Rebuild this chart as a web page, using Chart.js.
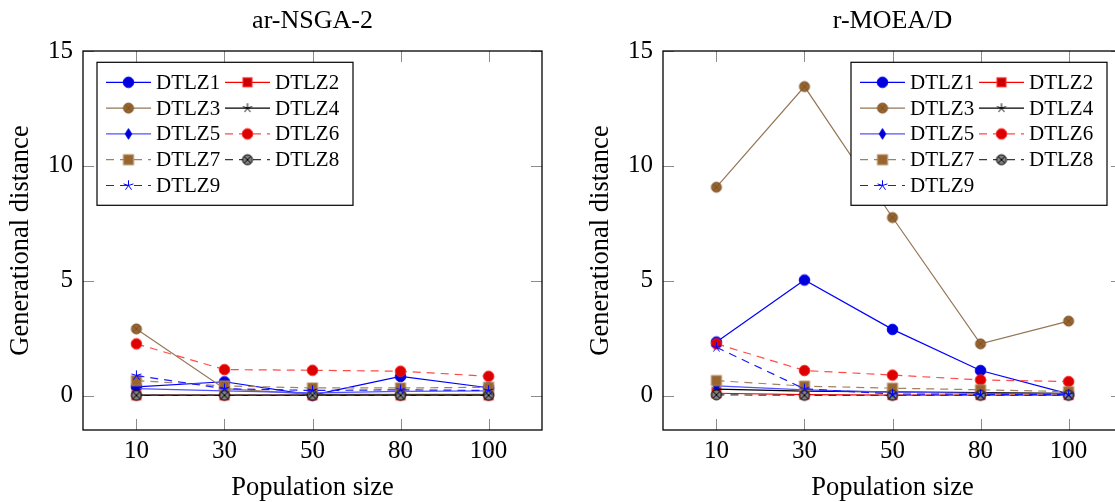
<!DOCTYPE html>
<html>
<head>
<meta charset="utf-8">
<script src="https://cdn.jsdelivr.net/npm/chart.js@4"></script>
<style>
  html, body { margin: 0; padding: 0; background: #fff; overflow: hidden; width: 1115px; height: 502px; }
  .panel { position: absolute; top: 0; width: 560px; height: 502px; }
  #panelLeft { left: 0; }
  #panelRight { left: 580px; }
  canvas { display: block; }
</style>
</head>
<body>
<div class="panel" id="panelLeft"><canvas id="chartNsga" width="560" height="502"></canvas></div>
<div class="panel" id="panelRight"><canvas id="chartMoead" width="560" height="502"></canvas></div>
<script>
// ---- data ---------------------------------------------------------------
const populationSizes = ['10', '30', '50', '80', '100'];
const problemNames = ['DTLZ1', 'DTLZ2', 'DTLZ3', 'DTLZ4', 'DTLZ5', 'DTLZ6', 'DTLZ7', 'DTLZ8', 'DTLZ9'];
const yTickValues = [0, 5, 10, 15];

// ar-NSGA-2: generational distance per population size
const nsgaDTLZ1 = [0.38, 0.60, 0.02, 0.83, 0.34];
const nsgaDTLZ2 = [0.01, 0.01, 0.01, 0.01, 0.01];
const nsgaDTLZ3 = [2.90, 0.30, 0.05, 0.05, 0.05];
const nsgaDTLZ4 = [0.02, 0.02, 0.02, 0.02, 0.02];
const nsgaDTLZ5 = [0.30, 0.20, 0.12, 0.18, 0.20];
const nsgaDTLZ6 = [2.25, 1.13, 1.10, 1.06, 0.84];
const nsgaDTLZ7 = [0.65, 0.42, 0.33, 0.33, 0.36];
const nsgaDTLZ8 = [0.01, 0.01, 0.01, 0.01, 0.01];
const nsgaDTLZ9 = [0.87, 0.30, 0.22, 0.25, 0.22];

// r-MOEA/D: generational distance per population size
const moeadDTLZ1 = [2.33, 5.03, 2.88, 1.09, 0.07];
const moeadDTLZ2 = [0.10, 0.04, 0.02, 0.02, 0.02];
const moeadDTLZ3 = [9.07, 13.45, 7.75, 2.25, 3.24];
const moeadDTLZ4 = [0.28, 0.19, 0.16, 0.13, 0.10];
const moeadDTLZ5 = [0.42, 0.25, 0.15, 0.10, 0.07];
const moeadDTLZ6 = [2.25, 1.09, 0.89, 0.68, 0.61];
const moeadDTLZ7 = [0.65, 0.41, 0.32, 0.25, 0.17];
const moeadDTLZ8 = [0.03, 0.01, 0.01, 0.01, 0.01];
const moeadDTLZ9 = [2.10, 0.29, 0.07, 0.05, 0.05];

const nsgaSeries = [nsgaDTLZ1, nsgaDTLZ2, nsgaDTLZ3, nsgaDTLZ4, nsgaDTLZ5, nsgaDTLZ6, nsgaDTLZ7, nsgaDTLZ8, nsgaDTLZ9];
const moeadSeries = [moeadDTLZ1, moeadDTLZ2, moeadDTLZ3, moeadDTLZ4, moeadDTLZ5, moeadDTLZ6, moeadDTLZ7, moeadDTLZ8, moeadDTLZ9];

// ---- marker glyphs --------------------------------------------------------
function makeMarker(kind, fill, stroke, r) {
  const c = document.createElement('canvas');
  const s = Math.ceil(r * 2 + 4);
  c.width = s; c.height = s;
  const g = c.getContext('2d');
  const m = s / 2;
  g.lineWidth = 1;
  g.strokeStyle = stroke;
  g.fillStyle = fill;
  if (kind === 'circle' || kind === 'otimes') {
    g.beginPath(); g.arc(m, m, r, 0, Math.PI * 2); g.fill(); g.stroke();
    if (kind === 'otimes') {
      const d = r * 0.7071;
      g.beginPath();
      g.moveTo(m - d, m - d); g.lineTo(m + d, m + d);
      g.moveTo(m - d, m + d); g.lineTo(m + d, m - d);
      g.stroke();
    }
  } else if (kind === 'square') {
    g.fillRect(m - r, m - r, 2 * r, 2 * r);
    g.strokeRect(m - r, m - r, 2 * r, 2 * r);
  } else if (kind === 'diamond') {
    g.beginPath();
    g.moveTo(m, m - r); g.lineTo(m + r * 0.62, m); g.lineTo(m, m + r); g.lineTo(m - r * 0.62, m);
    g.closePath(); g.fill(); g.stroke();
  } else if (kind === 'star') {
    g.beginPath();
    for (let k = 0; k < 5; k++) {
      const a = -Math.PI / 2 + k * 2 * Math.PI / 5;
      g.moveTo(m, m); g.lineTo(m + r * Math.cos(a), m + r * Math.sin(a));
    }
    g.stroke();
  }
  return c;
}

// line and marker appearance for each problem
const seriesLook = [
  { line: '#0000ff', dash: [],     marker: makeMarker('circle',  '#0000dd', '#0000ff', 5.3) },
  { line: '#ff0000', dash: [],     marker: makeMarker('square',  '#cc0000', '#ff3030', 4.6) },
  { line: '#957556', dash: [],     marker: makeMarker('otimes',  '#99652f', '#7a5228', 5.0) },
  { line: '#000000', dash: [],     marker: makeMarker('star',    '#000000', '#000000', 4.8) },
  { line: '#5252ff', dash: [],     marker: makeMarker('diamond', '#0000cc', '#0000ff', 5.3) },
  { line: '#ff4a4a', dash: [8, 6], marker: makeMarker('circle',  '#dd0000', '#ff2020', 5.3) },
  { line: '#a08262', dash: [8, 6], marker: makeMarker('square',  '#99652f', '#ad8a62', 5.0) },
  { line: '#3a3a3a', dash: [8, 6], marker: makeMarker('otimes',  '#808080', '#000000', 5.0) },
  { line: '#1a1aff', dash: [8, 6], marker: makeMarker('star',    '#0000ff', '#0000ff', 5.2) }
];

const serif = '"Liberation Serif", "Times New Roman", serif';

// ---- plugins --------------------------------------------------------------
// full frame plus inward tick marks on all four sides
const frameAndTicks = {
  id: 'frameAndTicks',
  beforeDatasetsDraw(chart) {
    const { ctx, chartArea: a, scales: { x, y } } = chart;
    ctx.save();
    ctx.strokeStyle = '#8c8c8c';
    ctx.lineWidth = 1;
    ctx.beginPath();
    x.ticks.forEach(t => {
      const px = Math.round(x.getPixelForValue(t.value)) + 0.5;
      ctx.moveTo(px, a.bottom); ctx.lineTo(px, a.bottom - 11);
      ctx.moveTo(px, a.top); ctx.lineTo(px, a.top + 11);
    });
    y.ticks.forEach(t => {
      const py = Math.round(y.getPixelForValue(t.value)) + 0.5;
      ctx.moveTo(a.left, py); ctx.lineTo(a.left + 11, py);
      ctx.moveTo(a.right, py); ctx.lineTo(a.right - 11, py);
    });
    ctx.stroke();
    ctx.strokeStyle = '#000';
    ctx.lineWidth = 1.3;
    ctx.strokeRect(a.left, a.top, a.right - a.left, a.bottom - a.top);
    ctx.restore();
  }
};

// panel heading centred over the plot area
const panelHeading = {
  id: 'panelHeading',
  afterDraw(chart, args, opts) {
    const { ctx, chartArea: a } = chart;
    ctx.save();
    ctx.font = `26px ${serif}`;
    ctx.fillStyle = '#000';
    ctx.textAlign = 'center';
    ctx.textBaseline = 'middle';
    ctx.fillText(opts.text, (a.left + a.right) / 2, opts.y);
    ctx.restore();
  }
};

// boxed two-column legend with line samples and markers
const boxedLegend = {
  id: 'boxedLegend',
  afterDatasetsDraw(chart, args, opts) {
    const { ctx, chartArea: a } = chart;
    const w = 256, h = 143;
    const bx = opts.side === 'right' ? a.right - opts.inset - w : a.left + opts.inset;
    const by = a.top + opts.top;
    ctx.save();
    ctx.fillStyle = '#fff';
    ctx.fillRect(bx, by, w, h);
    ctx.strokeStyle = '#000';
    ctx.lineWidth = 1.2;
    ctx.strokeRect(bx, by, w, h);
    ctx.font = `21px ${serif}`;
    ctx.textBaseline = 'middle';
    ctx.textAlign = 'left';
    chart.data.datasets.forEach((ds, i) => {
      const col = i % 2, row = Math.floor(i / 2);
      const lx = bx + 9 + col * 119;
      const ly = by + 20 + row * 25.8;
      ctx.strokeStyle = ds.borderColor;
      ctx.lineWidth = 1.2;
      ctx.setLineDash(ds.borderDash);
      ctx.beginPath(); ctx.moveTo(lx, ly); ctx.lineTo(lx + 45, ly); ctx.stroke();
      ctx.setLineDash([]);
      const mk = ds.pointStyle;
      ctx.drawImage(mk, lx + 22.5 - mk.width / 2, ly - mk.height / 2);
      ctx.fillStyle = '#000';
      ctx.fillText(ds.label, lx + 50, ly + 1);
    });
    ctx.restore();
  }
};

// ---- chart factory --------------------------------------------------------
function buildChart(canvasId, titleText, seriesList, legendSide, legendInset) {
  const datasets = seriesList.map((values, i) => ({
    label: problemNames[i],
    data: values.map((v, k) => ({ x: k, y: v })),
    borderColor: seriesLook[i].line,
    borderDash: seriesLook[i].dash,
    borderWidth: 1.2,
    pointStyle: seriesLook[i].marker,
    pointRadius: 5,
    pointHoverRadius: 5,
    tension: 0,
    fill: false,
    order: problemNames.length - i
  }));

  return new Chart(document.getElementById(canvasId), {
    type: 'line',
    data: { datasets },
    plugins: [frameAndTicks, boxedLegend, panelHeading],
    options: {
      responsive: false,
      animation: false,
      events: [],
      layout: { padding: { left: 0, right: 18, top: 51, bottom: 0 } },
      plugins: {
        legend: { display: false },
        tooltip: { enabled: false },
        title: { display: false },
        panelHeading: { text: titleText, y: 21 },
        boxedLegend: { side: legendSide, inset: legendInset, top: 11.3 }
      },
      scales: {
        x: {
          type: 'linear',
          min: -0.607,
          max: 4.607,
          grid: { display: false, drawTicks: false },
          border: { display: false },
          ticks: {
            stepSize: 1,
            includeBounds: false,
            autoSkip: false,
            maxRotation: 0,
            color: '#000',
            padding: 6,
            font: { family: serif, size: 25 },
            callback: v => populationSizes[v] ?? ''
          },
          title: {
            display: true,
            text: 'Population size',
            color: '#000',
            font: { family: serif, size: 26.5, lineHeight: 1 },
            padding: { top: 0, bottom: 0.5 }
          },
          afterFit: s => { s.height = 72; }
        },
        y: {
          type: 'linear',
          min: -1.5,
          max: 15,
          afterBuildTicks: s => { s.ticks = yTickValues.map(v => ({ value: v })); },
          grid: { display: false, drawTicks: false },
          border: { display: false },
          ticks: {
            color: '#000',
            padding: 10,
            font: { family: serif, size: 25 }
          },
          title: {
            display: true,
            text: 'Generational distance',
            color: '#000',
            font: { family: serif, size: 26.5, lineHeight: 1 },
            padding: { top: 8.2, bottom: 0 }
          },
          afterFit: s => { s.width = 83; }
        }
      }
    }
  });
}

buildChart('chartNsga', 'ar-NSGA-2', nsgaSeries, 'left', 14);
buildChart('chartMoead', 'r-MOEA/D', moeadSeries, 'right', 15);
</script>
</body>
</html>
